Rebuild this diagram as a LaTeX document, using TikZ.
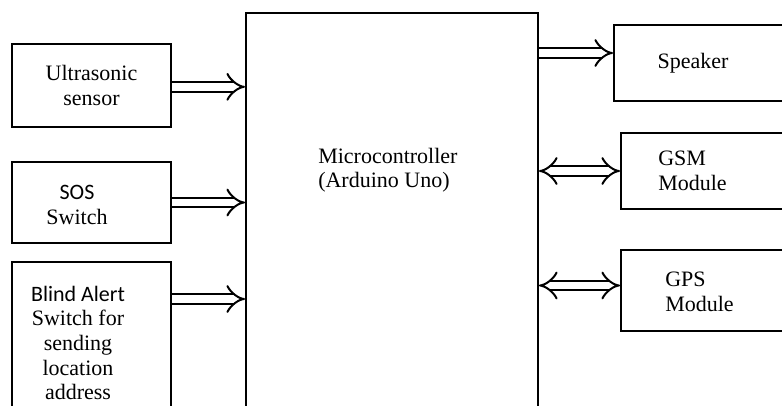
\documentclass[tikz,border=0pt]{standalone}
\usepackage{fontspec}
\setmainfont{Liberation Serif}
\newfontfamily\calib{Carlito}
\usetikzlibrary{arrows.meta,positioning}

\begin{document}
\begin{tikzpicture}[x=0.75pt,y=-0.75pt,
    box/.style={draw=black,line width=1.5pt,inner sep=0pt},
    txt/.style={inner sep=0pt,align=center,
                font=\fontsize{16.5}{18.4}\selectfont},
    dbl/.style={double,double distance=5.8pt,line width=1.5pt,
                -{Implies}},
    dblboth/.style={dbl,{Implies}-{Implies}}]
    \useasboundingbox (0,0) rectangle (782,406);
    \clip (0,0) rectangle (782,406);
    % inputs
    \node[box,txt,minimum width=119.25pt,minimum height=62.25pt]
      (ultra) at (91.5,85.5) {Ultrasonic\\sensor};
    \node[box,minimum width=119.25pt,minimum height=60.75pt]
      (sos) at (91.5,202.5) {};
    \node[box,minimum width=119.25pt,minimum height=126pt]
      (blind) at (91.5,346) {};
    % controller
    \node[box,minimum width=219pt,minimum height=312.75pt]
      (mcu) at (392,221.5) {};
    % outputs
    \node[box,minimum width=139.5pt,minimum height=57pt]
      (speaker) at (707,63) {};
    \node[box,minimum width=134.25pt,minimum height=57pt]
      (gsm) at (710.5,171) {};
    \node[box,minimum width=134.25pt,minimum height=60.75pt]
      (gps) at (710.5,290.5) {};
    % labels
    \node[txt] (sostxt) at (77,205) {{\calib SOS}\\Switch};
    \node[txt] (blindtxt) at (78,343)
      {{\calib Blind Alert}\\Switch for\\sending\\location\\address};
    \node[txt,anchor=west,align=left] (mcutxt) at (318,170)
      {Microcontroller\\(Arduino Uno)};
    \node[txt] (spktxt) at (693,63) {Speaker};
    \node[txt,anchor=west,align=left] (gsmtxt) at (658,171) {GSM\\Module};
    \node[txt,anchor=west,align=left] (gpstxt) at (665,292) {GPS\\Module};
    % connectors
    \path ([yshift=-28.5pt]blind.north east) coordinate (bout)
          ([yshift=7.5pt]speaker.west) coordinate (spkin)
          ([yshift=3.75pt]gps.west) coordinate (gpsin);
    \draw[dbl] ([yshift=-1pt]ultra.east) -- ([yshift=-1pt]ultra.east -| mcu.west);
    \draw[dbl] (sos.east) -- (sos.east -| mcu.west);
    \draw[dbl] (bout) -- (bout -| mcu.west);
    \draw[dbl] (spkin -| mcu.east) -- (spkin);
    \draw[dblboth] (gsm.west -| mcu.east) -- (gsm.west);
    \draw[dblboth] (gpsin -| mcu.east) -- (gpsin);
\end{tikzpicture}
\end{document}
